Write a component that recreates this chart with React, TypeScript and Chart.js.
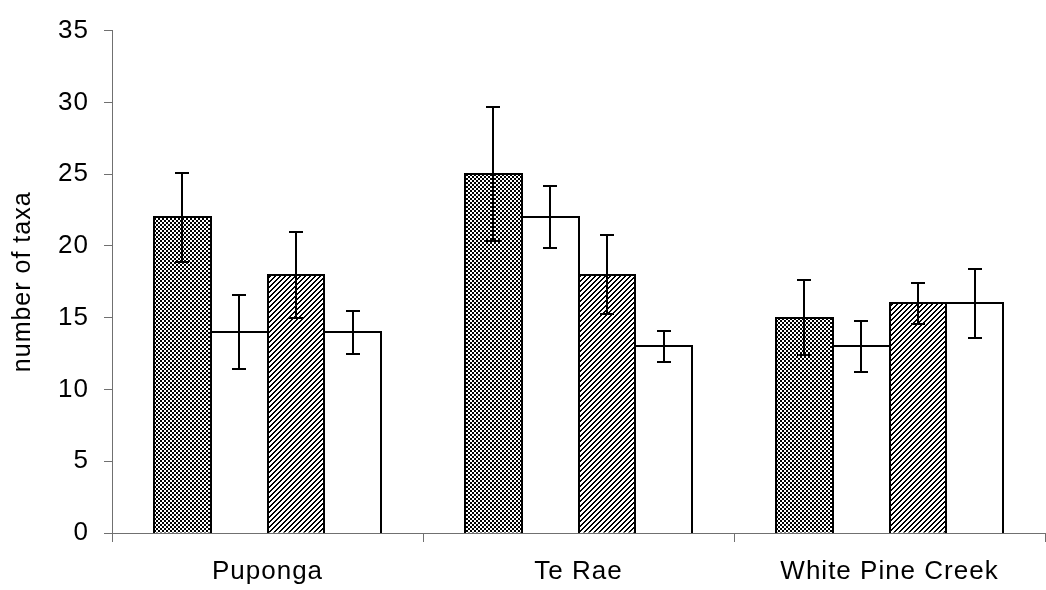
import React, { useEffect, useRef } from "react";
import { Chart, registerables } from "chart.js";
Chart.register(...registerables);

const categories = ["Puponga", "Te Rae", "White Pine Creek"];
const series1 = [22, 25, 15];
const series1Err = [3.1, 4.65, 2.6];
const series2 = [14, 22, 13];
const series2Err = [2.6, 2.15, 1.8];
const series3 = [18, 18, 16];
const series3Err = [3.0, 2.75, 1.45];
const series4 = [14, 13, 16];
const series4Err = [1.5, 1.1, 2.4];
const yTicks = [0, 5, 10, 15, 20, 25, 30, 35];

const FONT = "'Liberation Sans', Arial, sans-serif";

function makePattern(size: number, isBlack: (x: number, y: number) => boolean) {
  const c = document.createElement("canvas");
  c.width = size;
  c.height = size;
  const ctx = c.getContext("2d")!;
  ctx.fillStyle = "#ffffff";
  ctx.fillRect(0, 0, size, size);
  ctx.fillStyle = "#000000";
  for (let y = 0; y < size; y++) {
    for (let x = 0; x < size; x++) {
      if (isBlack(x, y)) ctx.fillRect(x, y, 1, 1);
    }
  }
  return ctx.createPattern(c, "repeat")!;
}

const spacingPlugin = {
  id: "letterSpacing",
  beforeUpdate(chart: any) {
    chart.ctx.letterSpacing = "1px";
  },
  beforeLayout(chart: any) {
    chart.ctx.letterSpacing = "1px";
  },
  beforeDraw(chart: any) {
    chart.ctx.letterSpacing = "1px";
  },
};

const outlineAndErrorPlugin = {
  id: "errorBars",
  afterDatasetsDraw(chart: any) {
    const ctx = chart.ctx;
    const yScale = chart.scales.y;
    ctx.save();
    ctx.strokeStyle = "#000";
    ctx.lineWidth = 2;
    // bar outlines (shared edges drawn once, centred on the edge)
    chart.data.datasets.forEach((ds: any, di: number) => {
      const meta = chart.getDatasetMeta(di);
      meta.data.forEach((bar: any) => {
        const l = Math.round(bar.x - bar.width / 2);
        const r = Math.round(bar.x + bar.width / 2);
        const t = Math.round(bar.y);
        const b = Math.round(bar.base);
        ctx.beginPath();
        ctx.moveTo(l, b);
        ctx.lineTo(l, t);
        ctx.lineTo(r, t);
        ctx.lineTo(r, b);
        ctx.stroke();
      });
    });
    // error bars
    chart.data.datasets.forEach((ds: any, di: number) => {
      const meta = chart.getDatasetMeta(di);
      meta.data.forEach((bar: any, i: number) => {
        const v = ds.data[i];
        const e = ds.errors[i];
        const x = Math.round(bar.x);
        const yTop = Math.round(yScale.getPixelForValue(v + e));
        const yBot = Math.round(yScale.getPixelForValue(v - e));
        const cap = 7;
        ctx.beginPath();
        ctx.moveTo(x, yTop);
        ctx.lineTo(x, yBot);
        ctx.moveTo(x - cap, yTop);
        ctx.lineTo(x + cap, yTop);
        ctx.moveTo(x - cap, yBot);
        ctx.lineTo(x + cap, yBot);
        ctx.stroke();
      });
    });
    ctx.restore();
  },
};

export default function App() {
  const ref = useRef<HTMLCanvasElement>(null);
  useEffect(() => {
    const canvas = ref.current!;
    const checker = makePattern(4, (x, y) => (Math.floor(x / 2) + Math.floor(y / 2)) % 2 === 0);
    const hatch = makePattern(5, (x, y) => (x + y) % 5 === 0 || (x + y) % 5 === 1);
    const axisColor = "#707070";
    const chart = new Chart(canvas, {
      type: "bar",
      data: {
        labels: categories,
        datasets: [
          { label: "Series 1", data: series1, errors: series1Err, backgroundColor: checker },
          { label: "Series 2", data: series2, errors: series2Err, backgroundColor: "#ffffff" },
          { label: "Series 3", data: series3, errors: series3Err, backgroundColor: hatch },
          { label: "Series 4", data: series4, errors: series4Err, backgroundColor: "#ffffff" },
        ].map((d: any) => ({
          ...d,
          borderWidth: 0,
          categoryPercentage: 0.733,
          barPercentage: 1.0,
        })) as any,
      },
      options: {
        animation: false,
        responsive: true,
        maintainAspectRatio: false,
        layout: { padding: { top: 23, right: 1, left: 0, bottom: 0 } },
        plugins: { legend: { display: false }, tooltip: { enabled: false }, title: { display: false } },
        scales: {
          x: {
            grid: {
              display: true,
              drawOnChartArea: false,
              drawTicks: true,
              tickLength: 9,
              color: axisColor,
              offset: true,
            },
            border: { display: true, color: axisColor, width: 1 },
            ticks: {
              color: "#000",
              font: { family: FONT, size: 26 },
              padding: 14,
            },
            afterFit: (s: any) => {
              s.height = 57;
            },
          },
          y: {
            min: 0,
            max: 35,
            afterBuildTicks: (s: any) => {
              s.ticks = yTicks.map((v) => ({ value: v }));
            },
            grid: {
              display: true,
              drawOnChartArea: false,
              drawTicks: true,
              tickLength: 8,
              color: axisColor,
            },
            border: { display: true, color: axisColor, width: 1 },
            ticks: {
              color: "#000",
              font: { family: FONT, size: 26 },
              padding: 15,
            },
            title: {
              display: true,
              text: "number of taxa",
              color: "#000",
              font: { family: FONT, size: 25 },
              padding: { top: 8, bottom: 0 },
            },
            afterFit: (s: any) => {
              s.width = 112;
            },
          },
        },
      },
      plugins: [spacingPlugin, outlineAndErrorPlugin],
    } as any);
    return () => chart.destroy();
  }, []);
  return (
    <div style={{ position: "absolute", left: 0, top: 0, width: 1046, height: 590, background: "#fff" }}>
      <canvas ref={ref} />
    </div>
  );
}
